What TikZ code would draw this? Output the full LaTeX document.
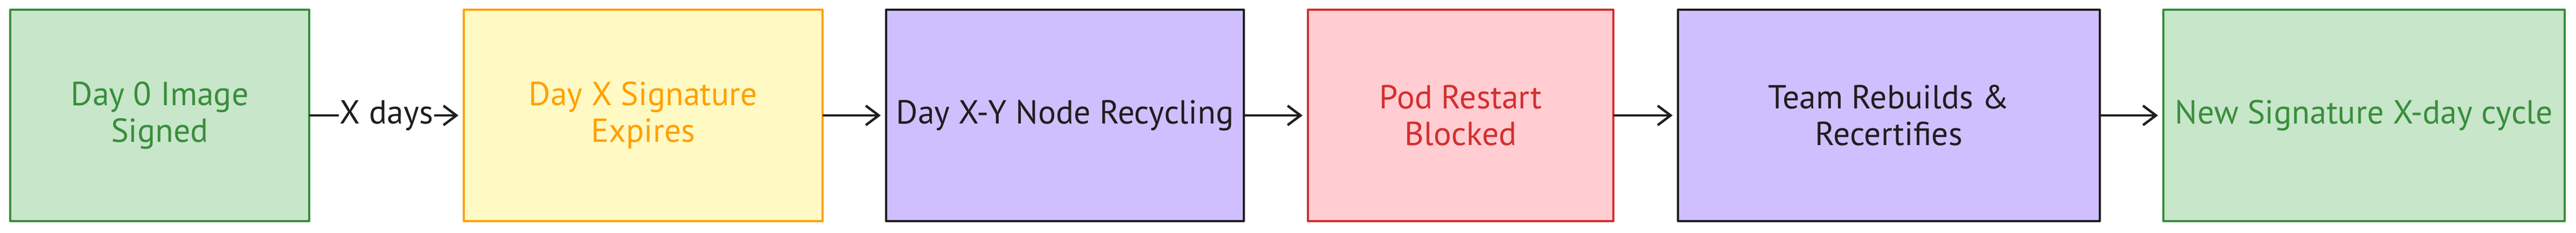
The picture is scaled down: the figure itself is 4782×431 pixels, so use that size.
\documentclass[tikz,border=0pt]{standalone}
\usepackage{fontspec}
\setmainfont{PT Sans}
\usetikzlibrary{arrows.meta}
\definecolor{grnS}{HTML}{388E3C}
\definecolor{grnF}{HTML}{C8E6C9}
\definecolor{ylwS}{HTML}{FFA000}
\definecolor{ylwF}{HTML}{FFF9C4}
\definecolor{vioS}{HTML}{1E1E1E}
\definecolor{vioF}{HTML}{D0BFFF}
\definecolor{redS}{HTML}{D32F2F}
\definecolor{redF}{HTML}{FFCDD2}
\definecolor{ink}{HTML}{1E1E1E}
\tikzset{
  stage/.style={rectangle, draw, line width=4bp, minimum height=392bp, inner sep=0pt,
    align=center, font=\fontsize{62}{68}\selectfont, line join=round},
  greenbox/.style={stage, draw=grnS, fill=grnF, text=grnS},
  yellowbox/.style={stage, draw=ylwS, fill=ylwF, text=ylwS},
  violetbox/.style={stage, draw=vioS, fill=vioF, text=ink},
  redbox/.style={stage, draw=redS, fill=redF, text=redS},
  flow/.style={draw=ink, line width=4.5bp, line cap=round, line join=round, shorten >=8bp,
    -{Straight Barb[length=24bp,width=36bp,line width=4.5bp]}},
  flowlabel/.style={fill=white, inner sep=2bp, text=ink, font=\fontsize{62}{68}\selectfont}
}
\begin{document}
\begin{tikzpicture}[x=1bp,y=-1bp]
\useasboundingbox (0,0) rectangle (4782,431);
\node[greenbox, minimum width=555bp] (s1) at (296.5,214) {Day 0 Image\\Signed};
\node[yellowbox, minimum width=666bp] (s2) at (1194,214) {Day X Signature\\Expires};
\node[violetbox, minimum width=664bp] (s3) at (1977,214) {Day X-Y Node Recycling};
\node[redbox, minimum width=567bp] (s4) at (2711.5,214) {Pod Restart\\Blocked};
\node[violetbox, minimum width=783bp] (s5) at (3506.5,214) {Team Rebuilds \&\\Recertifies};
\node[greenbox, minimum width=745bp] (s6) at (4388.5,214) {New Signature X-day cycle};
\draw[flow] (s1) -- node[flowlabel] {X days} (s2);
\draw[flow] (s2) -- (s3);
\draw[flow] (s3) -- (s4);
\draw[flow] (s4) -- (s5);
\draw[flow] (s5) -- (s6);
\end{tikzpicture}
\end{document}
